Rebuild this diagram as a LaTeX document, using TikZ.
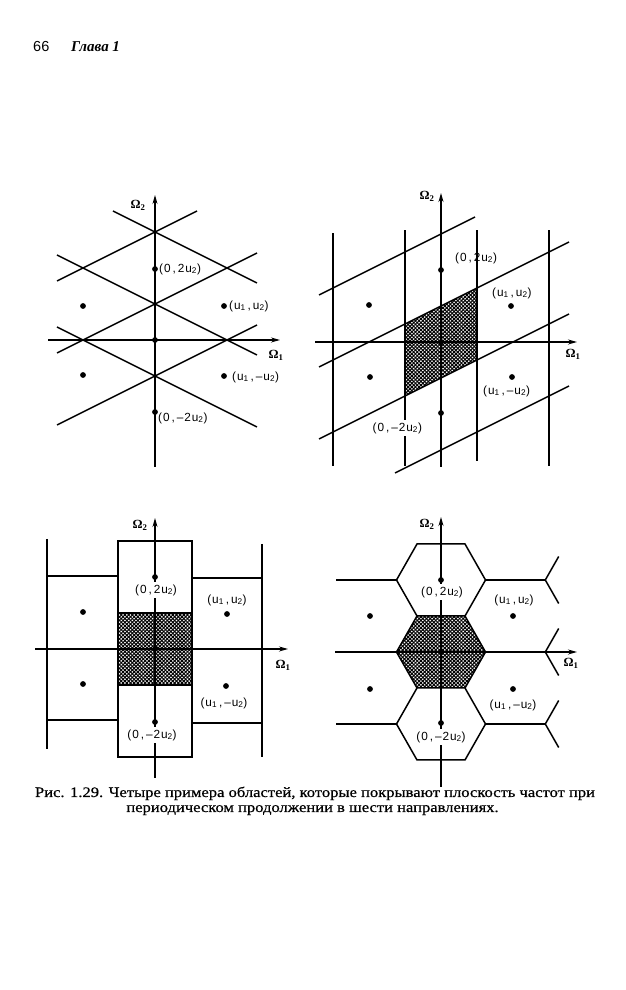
\documentclass[tikz,border=0pt]{standalone}
\usepackage{fontspec}
\usepackage{graphicx}
\setmainfont{Liberation Serif}
\newfontfamily\sansf{Liberation Sans}
\newfontfamily\lblfont[LetterSpace=8]{Liberation Sans}
\newfontfamily\capfont[FakeBold=0.6]{Liberation Serif}
\usetikzlibrary{arrows.meta,patterns.meta}
\newlength\capw
\newcommand\lineA{Рис. 1.29. Четыре примера областей, которые покрывают плоскость частот при}
\newcommand\lineB{периодическом продолжении в шести направлениях.}
\newcommand\cm{\,,\,}
\tikzset{
  ln/.style={line width=1.5pt},
  ax/.style={line width=1.2pt,-{Stealth[length=9pt,width=5pt]}},
  pt/.style={circle,fill=black,inner sep=0pt,minimum size=5.8pt},
  lbl/.style={font=\lblfont\fontsize{11.8}{13}\selectfont, inner sep=1pt},
  wlbl/.style={lbl,fill=white,inner sep=2.5pt},
  omg/.style={font=\bfseries\fontsize{12.5}{14}\selectfont,inner sep=0pt},
  hatcha/.style={pattern={Lines[angle=45,distance=2.6pt,line width=1.05pt]}},
  hatchb/.style={pattern={Lines[angle=-45,distance=2.6pt,line width=1.05pt]}},
}
\begin{document}
\settowidth\capw{\capfont\fontsize{14.5}{16}\selectfont\lineA}%
\pgfmathsetmacro\capr{560/\capw}%
\begin{tikzpicture}[x=1pt,y=1pt]
\useasboundingbox (0,0) rectangle (626,990);
\fill[white] (0,0) rectangle (626,990);

% header
\node[anchor=base west,inner sep=0pt,font=\sansf\fontsize{14.5}{16}\selectfont] (pg) at (33,938) {66};
\node[anchor=base west,inner sep=0pt,font=\bfseries\itshape\fontsize{15}{16}\selectfont] (ch) at (71,938) {Глава 1};

% ---------- panel 1 ----------
\begin{scope}[shift={(155,650)}]
\draw[ln] (-98,59) -- (42,129);
\draw[ln] (-98,-13) -- (102,87);
\draw[ln] (-98,-85) -- (102,15);
\draw[ln] (-42,129) -- (102,57);
\draw[ln] (-98,85) -- (102,-15);
\draw[ln] (-98,13) -- (102,-87);
\draw[ax] (-107,0) -- (125,0);
\draw[ax] (0,-127) -- (0,145);
\node[omg] (a-o2) at (-17,135) {Ω\textsubscript{2}};
\node[omg] (a-o1) at (121,-15) {Ω\textsubscript{1}};
\node[pt] (a-0) at (0,0) {};
\node[pt] (a-t) at (0,71) {};
\node[pt] (a-b) at (0,-72) {};
\node[pt] (a-lt) at (-72,34) {};
\node[pt] (a-lb) at (-72,-35) {};
\node[pt] (a-rt) at (69,34) {};
\node[pt] (a-rb) at (69,-36) {};
\node[lbl,anchor=west] (a-lt1) at (3,71) {(0\cm2u\textsubscript{2})};
\node[lbl,anchor=west] (a-lr1) at (73,34) {(u\textsubscript{1}\cm u\textsubscript{2})};
\node[lbl,anchor=west] (a-lr2) at (76,-37) {(u\textsubscript{1}\cm–u\textsubscript{2})};
\node[lbl,anchor=west] (a-lb1) at (2,-78) {(0\cm–2u\textsubscript{2})};
\end{scope}

% ---------- panel 2 ----------
\begin{scope}[shift={(441,648)}]
\path[hatcha] (-36,18) -- (36,54) -- (36,-18) -- (-36,-54) -- cycle;
\path[hatchb] (-36,18) -- (36,54) -- (36,-18) -- (-36,-54) -- cycle;
\draw[ln] (-108,-124) -- (-108,109);
\draw[ln] (-36,-124) -- (-36,112);
\draw[ln] (36,-119) -- (36,112);
\draw[ln] (108,-124) -- (108,112);
\draw[ln] (-122,47) -- (34,125);
\draw[ln] (-122,-25) -- (128,100);
\draw[ln] (-122,-97) -- (128,28);
\draw[ln] (-46,-131) -- (128,-44);
\draw[ax] (-126,0) -- (136,0);
\draw[ax] (0,-125) -- (0,149);
\node[omg] (b-o2) at (-14,146) {Ω\textsubscript{2}};
\node[omg] (b-o1) at (132,-12) {Ω\textsubscript{1}};
\node[pt] (b-0) at (0,0) {};
\node[pt] (b-t) at (0,72) {};
\node[pt] (b-b) at (0,-71) {};
\node[pt] (b-lt) at (-72,37) {};
\node[pt] (b-lb) at (-71,-35) {};
\node[pt] (b-rt) at (70,36) {};
\node[pt] (b-rb) at (71,-35) {};
\node[lbl,anchor=west] (b-lt1) at (13,84) {(0\cm2u\textsubscript{2})};
\node[lbl,anchor=west] (b-lr1) at (50,49) {(u\textsubscript{1}\cm u\textsubscript{2})};
\node[lbl,anchor=west] (b-lr2) at (41,-49) {(u\textsubscript{1}\cm–u\textsubscript{2})};
\node[wlbl,anchor=west] (b-lb1) at (-71,-86) {(0\cm–2u\textsubscript{2})};
\end{scope}

% ---------- panel 3 ----------
\begin{scope}[shift={(155,341)}]
\path[hatcha] (-37,-36) rectangle (37,36);
\path[hatchb] (-37,-36) rectangle (37,36);
\draw[ln] (-37,-108) rectangle (37,108);
\draw[ln] (-37,36) -- (37,36);
\draw[ln] (-37,-36) -- (37,-36);
\draw[ln] (-108,110) -- (-108,-100);
\draw[ln] (-108,73) -- (-37,73);
\draw[ln] (-108,-71) -- (-37,-71);
\draw[ln] (107,105) -- (107,-108);
\draw[ln] (37,71) -- (107,71);
\draw[ln] (37,-74) -- (107,-74);
\draw[ax] (-120,0) -- (133,0);
\draw[ax] (0,-129) -- (0,131);
\node[omg] (c-o2) at (-15,124) {Ω\textsubscript{2}};
\node[omg] (c-o1) at (128,-16) {Ω\textsubscript{1}};
\node[pt] (c-0) at (0,0) {};
\node[pt] (c-t) at (0,72) {};
\node[pt] (c-b) at (0,-73) {};
\node[pt] (c-lt) at (-72,37) {};
\node[pt] (c-lb) at (-72,-35) {};
\node[pt] (c-rt) at (72,35) {};
\node[pt] (c-rb) at (71,-37) {};
\node[wlbl] (c-lt1) at (1,59) {(0\cm2u\textsubscript{2})};
\node[lbl] (c-lr1) at (72,49) {(u\textsubscript{1}\cm u\textsubscript{2})};
\node[lbl] (c-lr2) at (69,-54) {(u\textsubscript{1}\cm–u\textsubscript{2})};
\node[wlbl] (c-lb1) at (-3,-86) {(0\cm–2u\textsubscript{2})};
\end{scope}

% ---------- panel 4 ----------
\begin{scope}[shift={(441,338)}]
\path[hatcha] (-44.5,0) -- (-24,36) -- (24,36) -- (44.5,0) -- (24,-36) -- (-24,-36) -- cycle;
\path[hatchb] (-44.5,0) -- (-24,36) -- (24,36) -- (44.5,0) -- (24,-36) -- (-24,-36) -- cycle;
\draw[ln] (-44.5,0) -- (-24,36) -- (24,36) -- (44.5,0) -- (24,-36) -- (-24,-36) -- cycle;
\draw[ln] (-44.5,72) -- (-24,108) -- (24,108) -- (44.5,72) -- (24,36);
\draw[ln] (-44.5,72) -- (-24,36);
\draw[ln] (-44.5,-72) -- (-24,-108) -- (24,-108) -- (44.5,-72) -- (24,-36);
\draw[ln] (-44.5,-72) -- (-24,-36);
\draw[ln] (-105,72) -- (-44.5,72);
\draw[ln] (-105,-72) -- (-44.5,-72);
\draw[ln] (44.5,72) -- (104.3,72);
\draw[ln] (44.5,-72) -- (104.3,-72);
\draw[ln] (117.7,95.5) -- (104.3,72) -- (117.7,48.5);
\draw[ln] (117.7,23.5) -- (104.3,0) -- (117.7,-23.5);
\draw[ln] (117.7,-48.5) -- (104.3,-72) -- (117.7,-95.5);
\draw[ax] (-106,0) -- (136,0);
\draw[ax] (0,-135) -- (0,135);
\node[omg] (d-o2) at (-14,128) {Ω\textsubscript{2}};
\node[omg] (d-o1) at (130,-11) {Ω\textsubscript{1}};
\node[pt] (d-0) at (0,0) {};
\node[pt] (d-t) at (0,72) {};
\node[pt] (d-b) at (0,-71) {};
\node[pt] (d-lt) at (-71,36) {};
\node[pt] (d-lb) at (-71,-37) {};
\node[pt] (d-rt) at (72,36) {};
\node[pt] (d-rb) at (72,-37) {};
\node[wlbl] (d-lt1) at (1,60) {(0\cm2u\textsubscript{2})};
\node[lbl] (d-lr1) at (73,52) {(u\textsubscript{1}\cm u\textsubscript{2})};
\node[lbl] (d-lr2) at (72,-53) {(u\textsubscript{1}\cm–u\textsubscript{2})};
\node[wlbl] (d-lb1) at (0,-85) {(0\cm–2u\textsubscript{2})};
\end{scope}

% ---------- caption ----------
\node[anchor=base,inner sep=0pt] (cap1) at (315,193) {\scalebox{\capr}[1]{\capfont\fontsize{14.5}{16}\selectfont\lineA}};
\node[anchor=base,inner sep=0pt] (cap2) at (312.5,178) {\scalebox{\capr}[1]{\capfont\fontsize{14.5}{16}\selectfont\lineB}};
\end{tikzpicture}
\end{document}
